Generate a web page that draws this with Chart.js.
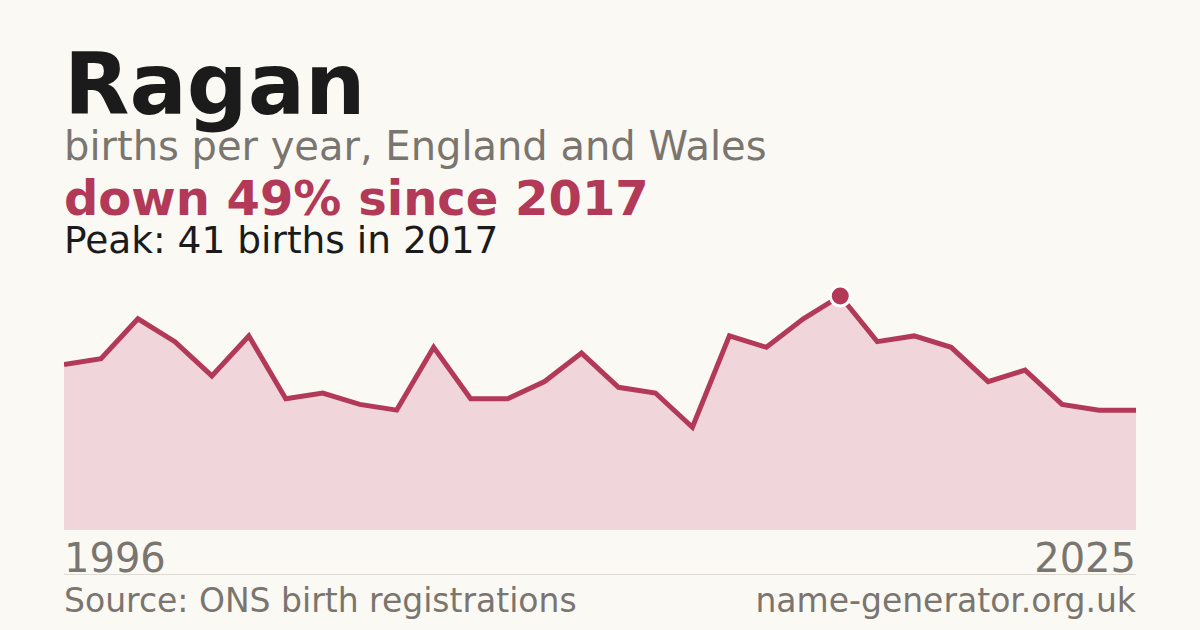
<!DOCTYPE html>
<html>
<head>
<meta charset="utf-8">
<script src="https://cdn.jsdelivr.net/npm/chart.js@4"></script>
<style>
  html, body { margin: 0; padding: 0; background: #faf9f4; }
  #wrap { position: relative; width: 1200px; height: 630px; overflow: hidden; font-family: "DejaVu Sans", sans-serif; }
  .t { position: absolute; left: 64px; white-space: nowrap; line-height: 1; }
  #title { font-size: 85px; font-weight: bold; color: #1b1b1b; top: 42px; }
  #sub { font-size: 40px; color: #7a756e; top: 126px; }
  #change { font-size: 48px; font-weight: bold; color: #b23a58; top: 174px; }
  #peak { font-size: 37.5px; color: #1b1b1b; top: 222px; }
  #box { position: absolute; left: 64px; top: 272px; width: 1072px; height: 258px; }
  .foot { position: absolute; font-size: 40px; color: #7a756e; top: 538px; line-height: 1; }
  #rule { position: absolute; left: 64px; width: 1072px; top: 574px; height: 1px; background: #dedbd4; }
  .src { position: absolute; font-size: 33px; color: #7a756e; top: 584px; line-height: 1; }
</style>
</head>
<body>
<div id="wrap">
  <div class="t" id="title">Ragan</div>
  <div class="t" id="sub">births per year, England and Wales</div>
  <div class="t" id="change">down 49% since 2017</div>
  <div class="t" id="peak">Peak: 41 births in 2017</div>
  <div id="box"><canvas id="lineChart"></canvas></div>
  <div class="foot" style="left:64px">1996</div>
  <div class="foot" style="right:64px">2025</div>
  <div id="rule"></div>
  <div class="src" style="left:64px">Source: ONS birth registrations</div>
  <div class="src" style="right:64px">name-generator.org.uk</div>
</div>
<script>
var years = ['1996','1997','1998','1999','2000','2001','2002','2003','2004','2005',
             '2006','2007','2008','2009','2010','2011','2012','2013','2014','2015',
             '2016','2017','2018','2019','2020','2021','2022','2023','2024','2025'];
var births = [29, 30, 37, 33, 27, 34, 23, 24, 22, 21,
              32, 23, 23, 26, 31, 25, 24, 18, 34, 32,
              37, 41, 33, 34, 32, 26, 28, 22, 21, 21];
var peakYear = '2017';
var peakIndex = years.indexOf(peakYear);

var lineColor = '#b23a58';

var lineConfig = {
    type: 'line',
    data: {
        labels: years,
        datasets: [{
            data: births,
            borderColor: lineColor,
            backgroundColor: '#f0d6db',
            borderWidth: 5,
            fill: 'origin',
            tension: 0,
            clip: false,
            pointRadius: function(ctx) { return ctx.dataIndex == peakIndex ? 10 : 0; },
            pointHoverRadius: 0,
            pointBackgroundColor: lineColor,
            pointBorderColor: '#ffffff',
            pointBorderWidth: 3
        }]
    },
    options: {
        responsive: true,
        maintainAspectRatio: false,
        animation: false,
        layout: { padding: 0 },
        plugins: { legend: { display: false }, tooltip: { enabled: false } },
        scales: {
            x: { display: false, offset: false },
            y: { display: false, min: 0, max: 45.2 }
        }
    }
};

var lineChart = new Chart(document.getElementById('lineChart'), lineConfig);
</script>
</body>
</html>
